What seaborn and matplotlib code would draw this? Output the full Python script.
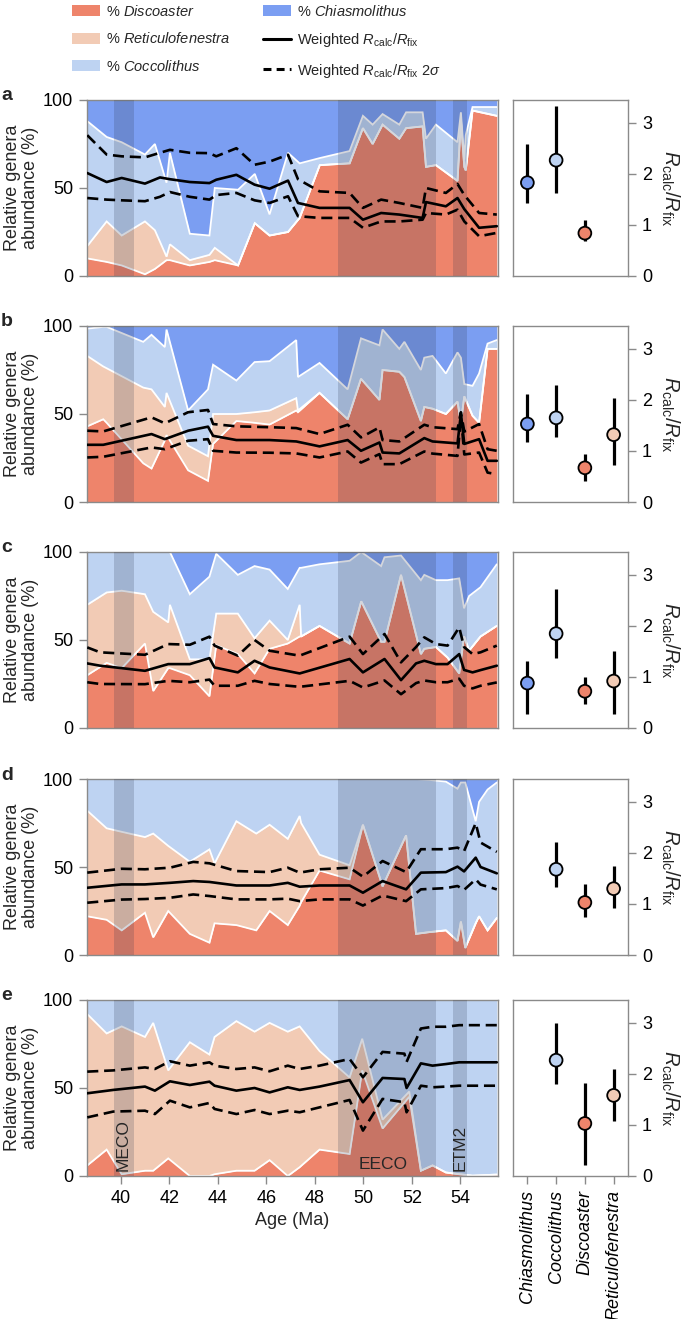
import numpy as np
import pandas as pd
import matplotlib
matplotlib.use('Agg')
import matplotlib.pyplot as plt
import seaborn as sns
from matplotlib.patches import Patch
from matplotlib.lines import Line2D

sns.set_style('ticks')
plt.rcParams['font.family'] = ['Liberation Sans', 'DejaVu Sans']
plt.rcParams['mathtext.fontset'] = 'custom'
plt.rcParams['mathtext.rm'] = 'Liberation Sans'
plt.rcParams['mathtext.it'] = 'Liberation Sans:italic'
plt.rcParams['mathtext.bf'] = 'Liberation Sans:bold'

# ---------------- data: cumulative genera abundance (%) ----------------
# top of Discoaster, top of Reticulofenestra, top of Coccolithus (Chiasmolithus fills to 100)
age_a = [38.61, 39.41, 40.03, 40.99, 41.40, 41.88, 42.02, 42.84, 43.65, 43.87, 44.83, 45.52, 46.13, 46.89, 47.37, 48.20,
         49.43, 49.98, 50.38, 50.79, 51.48, 51.76, 52.44, 52.58, 52.99, 53.88, 54.02, 54.16, 54.22, 54.50, 55.50]
disc_a = [10, 8, 6, 1, 4, 9, 9, 6, 8, 9, 6, 30, 23, 25, 33, 63, 64, 84, 75, 86, 78, 84, 85, 62, 63, 54, 88, 62, 60, 94, 91]
reti_a = [17, 31, 23, 31, 26, 11, 18, 9, 12, 16, 6, 30, 23, 25, 33, 63, 64, 84, 75, 86, 78, 84, 85, 62, 63, 54, 88, 62, 60, 94, 91]
cocc_a = [88, 79, 76, 69, 75, 53, 70, 24, 23, 50, 49, 58, 35, 70, 64, 67, 71, 91, 86, 92, 86, 93, 93, 78, 86, 76, 93, 66, 80, 96, 96]

age_b = [38.61, 39.27, 39.41, 40.92, 41.26, 41.81, 41.88, 42.77, 43.59, 43.80, 44.76, 45.51, 46.13, 47.23, 47.30, 48.19,
         49.35, 49.90, 50.66, 50.79, 51.48, 51.69, 52.37, 52.51, 52.85, 53.40, 53.88, 54.02, 54.16, 54.50, 54.77, 55.12, 55.50]
disc_b = [43, 47, 45, 22, 19, 35, 38, 18, 12, 33, 46, 45, 44, 52, 51, 62, 47, 70, 58, 75, 74, 71, 46, 54, 53, 50, 57, 45, 60, 49, 45, 87, 87]
reti_b = [83, 77, 76, 65, 64, 54, 62, 32, 26, 50, 50, 51, 52, 59, 52, 62, 47, 70, 58, 75, 74, 71, 46, 54, 53, 50, 57, 45, 60, 49, 45, 87, 87]
cocc_b = [98.5, 99.5, 99.5, 91, 95, 88, 98, 52, 64, 78, 69, 79.5, 80, 92, 71, 79, 64, 93, 89, 98, 87, 91, 75, 82, 83, 73, 85, 82, 67, 66, 73, 90, 92]

age_c = [38.61, 39.41, 40.03, 40.99, 41.33, 41.95, 42.02, 42.84, 43.65, 43.93, 44.82, 45.51, 46.13, 46.88, 47.37, 47.43,
         48.19, 49.43, 49.91, 50.73, 50.87, 51.55, 52.37, 52.51, 52.99, 53.47, 53.95, 54.15, 54.36, 54.83, 55.50]
disc_c = [30, 37, 34, 48, 21, 34, 34, 30, 18, 47, 42, 31, 45, 48, 52, 52, 58, 48, 72, 49, 49, 87, 42, 45, 46, 40, 31, 52, 44, 52, 58]
reti_c = [70, 77, 78, 76, 66, 60, 70, 39, 39, 65, 65, 51, 61, 50, 70, 52, 58, 48, 72, 49, 49, 87, 42, 45, 46, 40, 31, 52, 44, 52, 58]
cocc_c = [100, 100, 100, 100, 100, 100, 100, 76, 86, 99, 87, 92, 90, 79, 91, 91, 93, 95, 100, 92, 97, 98, 84, 87, 84, 84, 85, 68, 75, 80, 93]

age_d = [38.61, 39.41, 40.03, 40.99, 41.33, 41.95, 42.84, 43.65, 43.86, 44.76, 45.58, 46.13, 46.88, 47.37, 47.43,
         48.19, 49.43, 49.98, 50.79, 51.76, 52.17, 52.72, 53.40, 53.88, 54.02, 54.20, 54.63, 54.77, 55.12, 55.50]
disc_d = [22, 20, 14, 24, 10, 25, 12, 7, 18, 17, 14, 25, 17, 28, 30, 48, 43, 74, 39, 68, 12, 13, 14, 8, 19, 4, 18, 22, 14, 21]
reti_d = [82, 72, 70, 67, 69, 62, 53, 60, 52, 76, 69, 74, 66, 79, 75, 57, 51, 74, 39, 68, 12, 13, 14, 8, 19, 4, 18, 22, 14, 21]
cocc_d = [100, 100, 100, 100, 100, 100, 100, 100, 100, 100, 100, 100, 100, 100, 100, 100, 100, 100, 100, 100,
          100, 99.5, 98.5, 94.5, 98, 98, 76, 87, 94, 98]

age_e = [38.61, 39.41, 40.03, 40.99, 41.33, 41.95, 42.84, 43.65, 43.86, 44.76, 45.51, 46.13, 46.88, 47.37, 48.19,
         49.43, 49.95, 50.79, 51.89, 52.37, 52.85, 53.40, 53.95, 54.50, 55.50]
disc_e = [6, 15, 1, 3, 3, 10, 0, 0, 1, 3, 3, 9, 0, 5, 15, 12.5, 60, 27, 45, 3, 6, 2, 1, 0.2, 0.8]
reti_e = [92, 81, 85, 79, 87, 60, 76, 69, 79, 88, 82, 87, 82, 85, 71, 56, 78, 32, 48, 3, 6, 2, 1, 0.2, 0.8]
cocc_e = [100] * 25

# ---------------- data: weighted Rcalc/Rfix (plotted on % axis) ----------------
rage_a = [38.61, 39.41, 40.03, 40.99, 41.61, 42.02, 42.84, 43.65, 43.93, 44.76, 45.51, 46.13, 46.89, 47.30, 48.19, 49.43,
          49.98, 50.73, 51.48, 52.44, 52.58, 53.40, 53.88, 54.16, 54.77, 55.50]
rmid_a = [58.5, 53.4, 55.7, 52.5, 56, 55, 53.4, 52.8, 54.7, 57.5, 51.9, 49.6, 54.2, 41.5, 38.7, 38.7, 32, 35.8, 34.9, 33, 42, 39.6, 44.3, 38, 27.4, 28.3]
rhi_a = [80, 69, 68, 67.4, 70, 71.7, 70, 69.8, 68, 72.6, 63.2, 65, 68.9, 55, 48.1, 47.2, 38.7, 43.4, 41.5, 38.7, 50, 47.2, 52.3, 46, 35.8, 34.9]
rlo_a = [44.3, 43.4, 43, 42.5, 45, 47.7, 45, 43.4, 46, 47.2, 43, 41.5, 45.3, 34, 33, 33, 27.4, 31, 31, 32, 35.8, 34.9, 37.7, 31, 22.6, 24.5]

rage_b = [38.61, 39.27, 41.26, 41.81, 42.77, 43.59, 43.80, 44.76, 46.13, 47.23, 48.19, 49.35, 49.90, 50.66, 50.79, 51.48,
          52.51, 52.85, 53.88, 54.02, 54.16, 54.77, 55.12, 55.50]
rmid_b = [32.5, 32.5, 38.6, 35.7, 40.5, 42.8, 37.6, 35.2, 35.2, 34.4, 31.6, 35.2, 29.1, 33.8, 28.1, 27.6, 36.3, 34.4, 33.3, 50, 33, 35.7, 23.4, 23.4]
rhi_b = [40.5, 40.1, 48.1, 44.7, 51, 52.3, 44.3, 43, 42.5, 42, 38.6, 43.9, 36.7, 42.4, 35.2, 34.4, 43.9, 42.5, 41.4, 51, 40, 44.3, 30, 29.1]
rlo_b = [25.3, 25.7, 31, 30, 34.8, 35.7, 29.1, 28.1, 28, 27.6, 25.3, 28.7, 22.4, 27.2, 21.5, 21.5, 28.7, 27.5, 26.2, 49, 27, 28.1, 16.7, 15.8]

rage_c = [38.61, 39.14, 40.99, 41.95, 42.84, 43.65, 43.86, 44.82, 45.51, 46.13, 47.37, 49.43, 49.98, 50.87, 51.55, 52.17,
          52.51, 52.99, 53.47, 53.95, 54.15, 54.50, 54.83, 55.50]
rmid_c = [36.7, 35.4, 32.5, 36.3, 36.3, 39.7, 34.4, 31.6, 38.2, 34.4, 31, 39.2, 31.6, 39.2, 27.2, 36.7, 38.2, 36.3, 36.3, 42, 33, 31.6, 32.9, 35.4]
rhi_c = [45.8, 43, 41.6, 47.7, 47.3, 51.9, 46.8, 41.1, 50, 43.9, 41.1, 51.9, 42, 53.4, 37.3, 46, 51.5, 47.7, 46.8, 57.2, 46, 42, 43, 46.8]
rlo_c = [26, 25, 24.9, 26.8, 26, 27.5, 24, 24, 26.8, 25, 23.4, 26.8, 23, 27, 19.2, 25.5, 27, 26, 26, 28, 24, 22.5, 24, 25.9]

rage_d = [38.61, 40.03, 40.99, 42.02, 42.98, 43.65, 44.76, 46.13, 46.88, 47.37, 48.19, 49.43, 49.98, 50.79, 51.76,
          52.37, 53.40, 53.88, 54.15, 54.63, 54.83, 55.50]
rmid_d = [38.2, 40.1, 40.1, 41, 42, 41.5, 39.5, 39.5, 41, 38.8, 39.5, 39.5, 35.4, 42, 37.3, 46.8, 47.1, 50.2, 47.5, 55.3, 50, 46.4]
rhi_d = [46.8, 49, 48.7, 49.6, 52.9, 52.1, 47.7, 47.1, 49.6, 46.8, 48.7, 49.6, 44.5, 53.4, 47.1, 60.1, 60.1, 61, 59, 74.9, 63.9, 58.6]
rlo_d = [29.7, 31.5, 31.8, 32.5, 34.4, 33.5, 31.6, 31.6, 32, 30.6, 31.6, 31.6, 28.1, 33.8, 30.6, 37.3, 38, 39.2, 37, 43, 40, 37.3]

rage_e = [38.61, 39.68, 40.99, 41.40, 42.02, 42.84, 43.65, 43.86, 44.76, 45.51, 46.13, 46.88, 47.37, 48.19, 49.43,
          49.98, 50.79, 51.69, 51.78, 52.37, 52.85, 53.40, 53.95, 55.50]
rmid_e = [47, 48.9, 50.8, 48.5, 53.8, 51.7, 53.6, 51.3, 48.5, 50, 47.5, 50.4, 48.9, 50.8, 54.5, 41.9, 55.7, 55.1, 50, 64, 62.7, 63.6, 64.6, 64.6]
rhi_e = [59.3, 60, 61.7, 60.8, 65.2, 62.7, 64.6, 62.7, 60.8, 61.7, 59.5, 62.7, 60.8, 62.7, 66.5, 56.1, 70.5, 69.5, 64.8, 83.8, 84.8, 84.8, 85.7, 85.7]
rlo_e = [33.3, 36.6, 37.1, 35.2, 42.8, 39, 41.5, 38.1, 35.2, 37.5, 35.2, 37.1, 36.2, 39, 43.2, 25.8, 43.8, 41.9, 36.2, 51.3, 50.4, 50.8, 51.3, 51.3]

# ---------------- data: per-genus Rcalc/Rfix with 2 sigma ----------------
genera = ['Chiasmolithus', 'Coccolithus', 'Discoaster', 'Reticulofenestra']
nan = np.nan
gval_a = [1.83, 2.27, 0.84, nan]; glo_a = [1.43, 1.63, 0.69, nan]; ghi_a = [2.59, 3.34, 1.10, nan]
gval_b = [1.53, 1.65, 0.67, 1.32]; glo_b = [1.17, 1.28, 0.42, 0.73]; ghi_b = [2.11, 2.29, 0.94, 2.03]
gval_c = [0.88, 1.85, 0.72, 0.92]; glo_c = [0.28, 1.38, 0.48, 0.28]; ghi_c = [1.31, 2.72, 1.00, 1.50]
gval_d = [nan, 1.68, 1.03, 1.30]; glo_d = [nan, 1.33, 0.75, 0.92]; ghi_d = [nan, 2.22, 1.40, 1.75]
gval_e = [nan, 2.27, 1.03, 1.58]; glo_e = [nan, 1.80, 0.22, 1.07]; ghi_e = [nan, 3.00, 1.83, 2.10]

age_ticks = [40, 42, 44, 46, 48, 50, 52, 54]
events = [('MECO', 39.72, 40.53), ('EECO', 48.97, 53.0), ('ETM2', 53.7, 54.27)]

# ---------------- styling ----------------
DISC = '#EE846B'
RETI = '#F2CBB5'
COCC = '#BED3F2'
CHIA = '#7B9EF2'
palette = {'Chiasmolithus': CHIA, 'Coccolithus': COCC, 'Discoaster': DISC, 'Reticulofenestra': RETI}
GREY = '#8a8a8a'
FS = 13

W, H = 685, 1319
fig = plt.figure(figsize=(W / 100, H / 100), dpi=100)

def frac(x0, y0, w, h):
    return [x0 / W, 1 - (y0 + h) / H, w / W, h / H]

tops = [100, 326, 552, 779, 1000]
PH = 176
panels = [
    ('a', age_a, disc_a, reti_a, cocc_a, rage_a, rmid_a, rhi_a, rlo_a, gval_a, glo_a, ghi_a),
    ('b', age_b, disc_b, reti_b, cocc_b, rage_b, rmid_b, rhi_b, rlo_b, gval_b, glo_b, ghi_b),
    ('c', age_c, disc_c, reti_c, cocc_c, rage_c, rmid_c, rhi_c, rlo_c, gval_c, glo_c, ghi_c),
    ('d', age_d, disc_d, reti_d, cocc_d, rage_d, rmid_d, rhi_d, rlo_d, gval_d, glo_d, ghi_d),
    ('e', age_e, disc_e, reti_e, cocc_e, rage_e, rmid_e, rhi_e, rlo_e, gval_e, glo_e, ghi_e),
]

def style_spines(ax):
    for s in ax.spines.values():
        s.set_color(GREY)
        s.set_linewidth(1.0)
    ax.tick_params(colors=GREY, labelcolor='black', width=1.0, length=6, pad=4, labelsize=FS)

for i, (lab, age, d, r, c, rage, rmid, rhi, rlo, gv, gl, gh) in enumerate(panels):
    top = tops[i]
    last = (i == len(panels) - 1)
    ax = fig.add_axes(frac(87, top, 411, PH))
    age = np.array(age); d = np.array(d, float); r = np.array(r, float); c = np.array(c, float)
    ax.fill_between(age, 0, d, color=DISC, lw=0, zorder=1)
    ax.fill_between(age, d, r, color=RETI, lw=0, zorder=1)
    ax.fill_between(age, r, c, color=COCC, lw=0, zorder=1)
    ax.fill_between(age, c, 100, color=CHIA, lw=0, zorder=1)
    for bnd in (d, r, c):
        ax.plot(age, bnd, color='white', lw=1.3, zorder=2, solid_joinstyle='miter')
    for name, a0, a1 in events:
        ax.axvspan(a0, a1, color='#2c3650', alpha=0.2, lw=0, zorder=3)
    sns.lineplot(x=rage, y=rmid, ax=ax, color='black', lw=1.9, estimator=None, sort=False, zorder=5)
    for yy in (rhi, rlo):
        sns.lineplot(x=rage, y=yy, ax=ax, color='black', lw=1.9, estimator=None, sort=False, zorder=5)
        ax.lines[-1].set_dashes((4.2, 2.2))
    ax.set_xlim(38.6, 55.55)
    ax.set_ylim(0, 100)
    ax.set_yticks([0, 50, 100])
    style_spines(ax)
    ax.set_ylabel('Relative genera\nabundance (%)', fontsize=FS, linespacing=1.1)
    ax.yaxis.set_label_coords(-0.117, 0.5)
    if last:
        ax.set_xticks(age_ticks)
        ax.set_xlabel('Age (Ma)', fontsize=FS, labelpad=4)
        ax.text(40.1, 3, 'MECO', rotation=90, ha='center', va='bottom', fontsize=FS - 0.5, zorder=6)
        ax.text(50.8, 2, 'EECO', ha='center', va='bottom', fontsize=FS - 0.5, zorder=6)
        ax.text(54.0, 3, 'ETM2', rotation=90, ha='center', va='bottom', fontsize=FS - 0.5, zorder=6)
    else:
        ax.set_xticks(age_ticks)
        ax.tick_params(axis='x', bottom=False, labelbottom=False)
        ax.set_xlabel('')
    fig.text(1 / W, 1 - (top - 4) / H, lab, fontsize=14, fontweight='bold', va='center', ha='left')

    # right panel
    axr = fig.add_axes(frac(513, top, 115, PH))
    df = pd.DataFrame({'genus': genera, 'pos': np.arange(4), 'val': gv, 'lo': gl, 'hi': gh}).dropna()
    axr.errorbar(df['pos'], df['val'], yerr=[df['val'] - df['lo'], df['hi'] - df['val']], fmt='none',
                 ecolor='black', elinewidth=2.3, capsize=0, zorder=2)
    sns.scatterplot(data=df, x='pos', y='val', hue='genus', palette=palette, s=85, edgecolor='black',
                    linewidth=1.3, legend=False, ax=axr, zorder=3)
    axr.set_xlim(-0.5, 3.5)
    axr.set_ylim(0, 3.45)
    axr.set_yticks([0, 1, 2, 3])
    axr.yaxis.tick_right()
    axr.yaxis.set_label_position('right')
    style_spines(axr)
    axr.set_ylabel(r'$R_{\rm calc}/R_{\rm fix}$', rotation=270, fontsize=14.5, labelpad=5, va='bottom')
    axr.set_xticks(range(4))
    if last:
        axr.set_xticklabels(genera, rotation=90, style='italic', fontsize=FS)
    else:
        axr.tick_params(axis='x', bottom=False, labelbottom=False)
    axr.set_xlabel('')

# legend
handles = [Patch(facecolor=DISC, edgecolor='none'), Patch(facecolor=RETI, edgecolor='none'),
           Patch(facecolor=COCC, edgecolor='none'), Patch(facecolor=CHIA, edgecolor='none'),
           Line2D([], [], color='black', lw=2.2),
           Line2D([], [], color='black', lw=2.2, dashes=(2.6, 1.7))]
labels = ['% $\\it{Discoaster}$', '% $\\it{Reticulofenestra}$', '% $\\it{Coccolithus}$', '% $\\it{Chiasmolithus}$',
          'Weighted $R_{\\rm calc}/R_{\\rm fix}$', 'Weighted $R_{\\rm calc}/R_{\\rm fix}$ 2$\\sigma$']
fig.legend(handles, labels, loc='upper left', bbox_to_anchor=(72 / W, 0.997), ncol=2, frameon=False,
           fontsize=10.5, handlelength=1.9, handleheight=0.8, labelspacing=0.85, columnspacing=2.3,
           handletextpad=0.4, borderpad=0.0, borderaxespad=0.0)

fig.savefig('out.png', dpi=100)
